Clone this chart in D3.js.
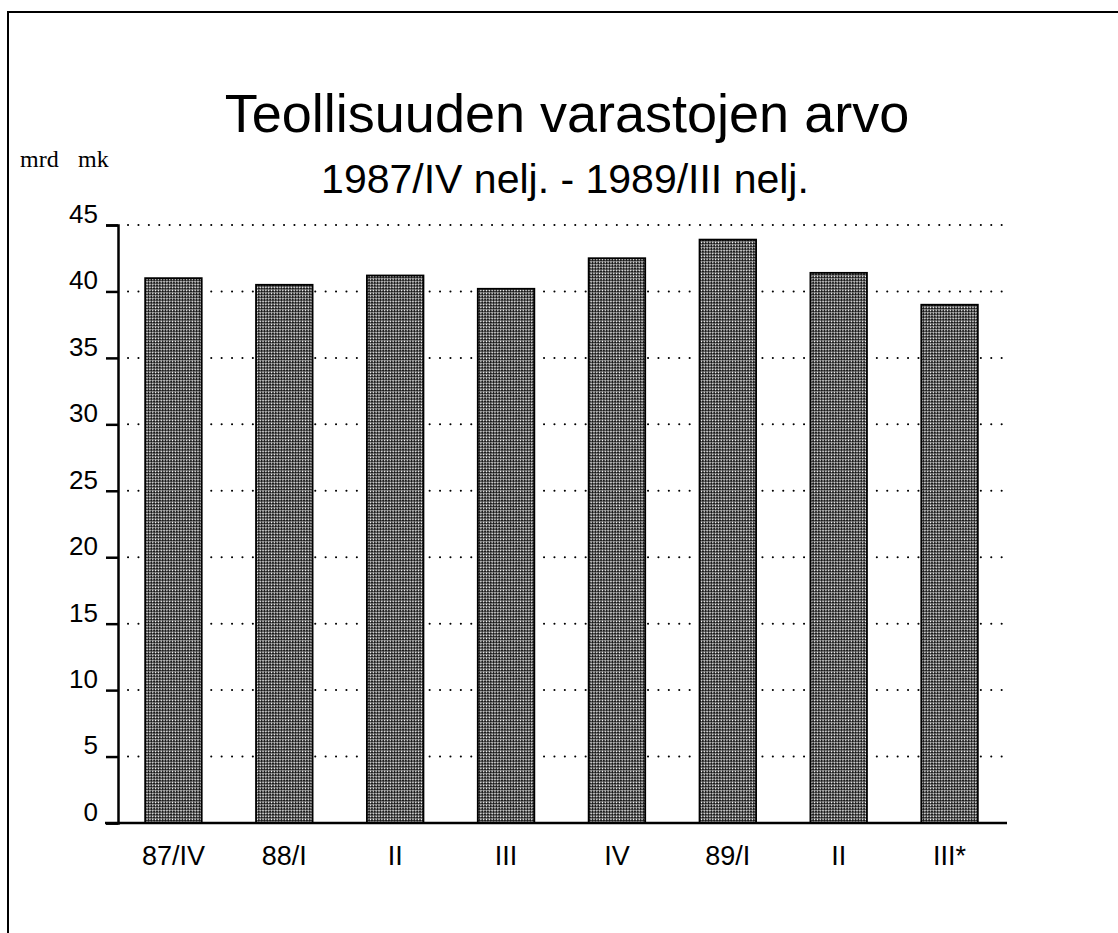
<!DOCTYPE html>
<html>
<head>
<meta charset="utf-8">
<script src="https://cdn.jsdelivr.net/npm/d3@7"></script>
<style>
  body { margin: 0; background: #fff; }
  text { font-family: Arial, "Liberation Sans", Helvetica, sans-serif; fill: #000; }
</style>
</head>
<body>
<script>
// Quarters and inventory value (mrd mk)
const quarters = ["87/IV", "88/I", "II", "III", "IV", "89/I", "II ", "III*"];
const values = [41.0, 40.5, 41.2, 40.2, 42.5, 43.9, 41.4, 39.0];
const yTicks = [0, 5, 10, 15, 20, 25, 30, 35, 40, 45];

const width = 1118, height = 933;

const svg = d3.select("body").append("svg")
  .attr("width", width)
  .attr("height", height);

// halftone fill for the bars
const defs = svg.append("defs");
const pat = defs.append("pattern")
  .attr("id", "halftone")
  .attr("patternUnits", "userSpaceOnUse")
  .attr("width", 4)
  .attr("height", 4)
  .attr("patternTransform", "rotate(45)");
pat.append("rect").attr("width", 4).attr("height", 4).attr("fill", "#1a1a1a");
pat.append("rect").attr("x", 0.4).attr("y", 0.4).attr("width", 1.6).attr("height", 1.6).attr("fill", "#fff");
pat.append("rect").attr("x", 2.4).attr("y", 2.4).attr("width", 1.6).attr("height", 1.6).attr("fill", "#fff");

// frame (only top and left edges are in the picture)
svg.append("path")
  .attr("d", `M8,${height} L8,12 L${width},12`)
  .attr("fill", "none")
  .attr("stroke", "#000")
  .attr("stroke-width", 2);

const x = d3.scaleBand()
  .domain(quarters)
  .range([118, 1005])
  .paddingInner(0.49)
  .paddingOuter(0.245);

const y = d3.scaleLinear()
  .domain([0, 45])
  .range([823, 225]);

// titles
svg.append("text")
  .attr("x", 567).attr("y", 132)
  .attr("text-anchor", "middle")
  .style("font-size", "54px")
  .text("Teollisuuden varastojen arvo");

svg.append("text")
  .attr("x", 565).attr("y", 193)
  .attr("text-anchor", "middle")
  .style("font-size", "41px")
  .text("1987/IV nelj. - 1989/III nelj.");

// unit label, two words set apart as in the original
const unit = svg.append("text")
  .attr("y", 167)
  .style("font-family", "'Liberation Serif', 'Times New Roman', serif")
  .style("font-size", "24px");
unit.append("tspan").attr("x", 20).text("mrd");
unit.append("tspan").attr("x", 78).text("mk");

// dotted gridlines
svg.append("g")
  .selectAll("line")
  .data(yTicks.filter(d => d > 0))
  .join("line")
  .attr("x1", 128).attr("x2", 1002)
  .attr("y1", d => y(d)).attr("y2", d => y(d))
  .attr("stroke", "#000")
  .attr("stroke-width", 2)
  .attr("stroke-linecap", "round")
  .attr("stroke-dasharray", "0.1,10.3");

// bars
svg.append("g")
  .selectAll("rect")
  .data(values)
  .join("rect")
  .attr("x", (d, i) => x(quarters[i]))
  .attr("y", d => y(d))
  .attr("width", x.bandwidth())
  .attr("height", d => y(0) - y(d))
  .attr("fill", "url(#halftone)")
  .attr("stroke", "#000")
  .attr("stroke-width", 1.8);

// y axis
const yAxis = svg.append("g")
  .attr("transform", "translate(118,0)")
  .call(d3.axisLeft(y).tickValues(yTicks).tickSize(12).tickPadding(8));
yAxis.select(".domain").attr("stroke-width", 2.5);
yAxis.selectAll(".tick line").attr("stroke-width", 2.5);
yAxis.selectAll(".tick text")
  .attr("dy", "-0.1em")
  .style("font-size", "26px")
  .style("font-family", "Arial, 'Liberation Sans', sans-serif");

// baseline
svg.append("line")
  .attr("x1", 105).attr("x2", 1007)
  .attr("y1", y(0)).attr("y2", y(0))
  .attr("stroke", "#000")
  .attr("stroke-width", 2.5);

// x labels
svg.append("g")
  .selectAll("text")
  .data(quarters)
  .join("text")
  .attr("x", d => x(d) + x.bandwidth() / 2)
  .attr("y", 865)
  .attr("text-anchor", "middle")
  .style("font-size", "27px")
  .text(d => d.trim());
</script>
</body>
</html>
